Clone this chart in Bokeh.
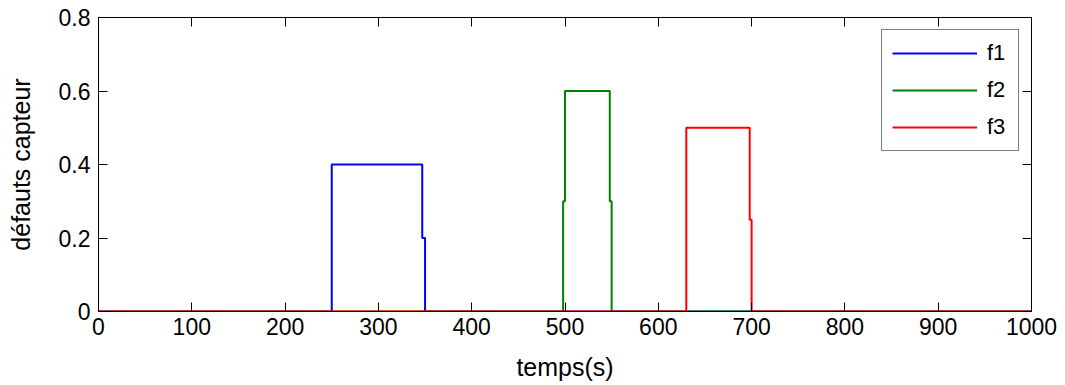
from bokeh.plotting import figure
from bokeh.models import Range1d, FixedTicker, LinearAxis, Legend, LegendItem
from bokeh.embed import file_html
from bokeh.resources import INLINE

# ---- data ----
t_f1 = [0, 250, 250, 347, 347, 350, 350, 1000]
v_f1 = [0, 0, 0.4, 0.4, 0.2, 0.2, 0, 0]
t_f2 = [0, 498, 498, 500, 500, 548, 548, 550, 550, 1000]
v_f2 = [0, 0, 0.3, 0.3, 0.6, 0.6, 0.3, 0.3, 0, 0]
t_f3 = [0, 630, 630, 698, 698, 700, 700, 1000]
v_f3 = [0, 0, 0.5, 0.5, 0.25, 0.25, 0, 0]
labels = ["f1", "f2", "f3"]
colors = ["#0000FF", "#008000", "#FF0000"]
x_ticks = [0, 100, 200, 300, 400, 500, 600, 700, 800, 900, 1000]
y_ticks = [0, 0.2, 0.4, 0.6, 0.8]

FONT = "Liberation Sans"
TICK_FS = "23px"
LABEL_FS = "25px"
LEG_FS = "22px"

p = figure(width=1065, height=385, output_backend="svg", toolbar_location=None,
           x_range=Range1d(0, 1000), y_range=Range1d(0, 0.8),
           min_border_left=98, min_border_right=34, min_border_top=17, min_border_bottom=74)
p.background_fill_color = "white"
p.border_fill_color = "white"
p.xgrid.visible = False
p.ygrid.visible = False
p.outline_line_color = "black"
p.outline_line_width = 1

renderers = []
for t, v, c in zip([t_f1, t_f2, t_f3], [v_f1, v_f2, v_f3], colors):
    r = p.line(t, v, line_color=c, line_width=2)
    renderers.append(r)

def style_axis(ax, ticks, show_labels=True):
    ax.ticker = FixedTicker(ticks=ticks)
    ax.axis_line_color = "black"
    ax.major_tick_line_color = "black"
    ax.major_tick_in = 9
    ax.major_tick_out = 0
    ax.minor_tick_line_color = None
    ax.major_label_text_font = FONT
    ax.major_label_text_color = "black"
    ax.major_label_text_font_size = TICK_FS
    if show_labels:
        ax.major_label_standoff = 6
    else:
        ax.major_label_overrides = {t: "" for t in ticks}
        ax.major_label_standoff = 0

style_axis(p.xaxis[0], x_ticks)
style_axis(p.yaxis[0], y_ticks)
p.yaxis[0].major_label_standoff = 8
p.xaxis[0].axis_label = "temps(s)"
p.yaxis[0].axis_label = "défauts capteur"
for ax in (p.xaxis[0], p.yaxis[0]):
    ax.axis_label_text_font = FONT
    ax.axis_label_text_font_size = LABEL_FS
    ax.axis_label_text_font_style = "normal"
    ax.axis_label_text_color = "black"
p.xaxis[0].axis_label_standoff = 15
p.yaxis[0].axis_label_standoff = 21

top_ax = LinearAxis()
style_axis(top_ax, x_ticks, show_labels=False)
p.add_layout(top_ax, "above")
right_ax = LinearAxis()
style_axis(right_ax, y_ticks, show_labels=False)
p.add_layout(right_ax, "right")

legend = Legend(items=[LegendItem(label=l, renderers=[r]) for l, r in zip(labels, renderers)],
                location="top_right")
legend.margin = 12
legend.padding = 10
legend.spacing = 11
legend.glyph_width = 85
legend.glyph_height = 20
legend.label_height = 20
legend.label_width = 21
legend.label_standoff = 10
legend.label_text_font = FONT
legend.label_text_font_size = LEG_FS
legend.label_text_color = "black"
legend.border_line_color = "black"
legend.border_line_width = 1
legend.background_fill_color = "white"
legend.background_fill_alpha = 1
p.add_layout(legend, "center")

open("out.html", "w").write(file_html(p, INLINE))
